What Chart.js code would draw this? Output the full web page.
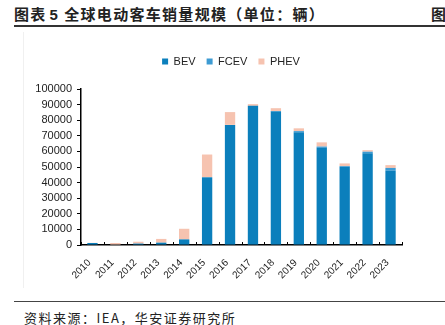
<!DOCTYPE html>
<html>
<head>
<meta charset="utf-8">
<script src="https://cdn.jsdelivr.net/npm/chart.js@4.4.0/dist/chart.umd.min.js"></script>
<style>
  body { margin: 0; background: #fff; }
  #page { position: relative; width: 445px; height: 325px; overflow: hidden; font-family: "Liberation Sans", Arial, sans-serif; }
  #title { position: absolute; left: 14px; top: 5px; font-size: 15px; line-height: 18px; font-weight: bold; color: #222; font-family: "Noto Sans CJK SC", sans-serif; white-space: nowrap; letter-spacing: 1.3px; }
  #title .num { font-family: "Liberation Sans", Arial; margin: 0 5px 0 3px; }
  #title2 { position: absolute; left: 431px; top: 5px; font-size: 15px; line-height: 18px; font-weight: bold; color: #222; font-family: "Noto Sans CJK SC", sans-serif; }
  #topline { position: absolute; left: 14px; top: 25px; width: 431px; height: 2px; background: #333; }
  #box { position: absolute; left: 23px; top: 32px; width: 1px; height: 256px; background: #f0f0f0; }
  #bottomline { position: absolute; left: 14px; top: 301px; width: 431px; height: 1px; background: #444; }
  #source { position: absolute; left: 24px; top: 309px; font-size: 13px; line-height: 18px; color: #222; font-family: "Noto Sans CJK SC", sans-serif; white-space: nowrap; letter-spacing: 1.5px; }
  #wrap { position: absolute; left: 0; top: 40px; width: 445px; height: 250px; }
</style>
</head>
<body>
<div id="page">
  <div id="title">图表<span class="num">5</span>全球电动客车销量规模（单位：辆）</div>
  <div id="title2">图</div>
  <div id="topline"></div>
  <div id="box"></div>
  <div id="wrap"><canvas id="chart"></canvas></div>
  <div id="bottomline"></div>
  <div id="source">资料来源：IEA，华安证券研究所</div>
</div>
<script>
var years = ['2010', '2011', '2012', '2013', '2014', '2015', '2016', '2017', '2018', '2019', '2020', '2021', '2022', '2023'];
var bev  = [1300, 300, 900, 1500, 3600, 43400, 77000, 89200, 85500, 72300, 62300, 50100, 58800, 47600];
var fcev = [0, 0, 0, 0, 0, 0, 0, 0, 400, 700, 800, 500, 1000, 1800];
var phev = [100, 1000, 1200, 2400, 6800, 14600, 8200, 1100, 1800, 1800, 2700, 1700, 1000, 1800];

// small tick marks on the x axis at category boundaries, drawn upward
var xTicksPlugin = {
    id: 'xTicks',
    afterDatasetsDraw: function(chart) {
        var ctx = chart.ctx;
        var x = chart.scales.x;
        var y0 = chart.chartArea.bottom;
        ctx.save();
        ctx.strokeStyle = '#000';
        ctx.lineWidth = 1;
        for (var i = 0; i <= years.length; i++) {
            var px = x.getPixelForValue(i - 0.5);
            ctx.beginPath();
            ctx.moveTo(Math.round(px) + 0.5, y0);
            ctx.lineTo(Math.round(px) + 0.5, y0 - 3);
            ctx.stroke();
        }
        ctx.restore();
    }
};

// extra room under the legend, and shift it to the right like the original
var legendPlugin = {
    id: 'legendTweak',
    beforeInit: function(chart) {
        var fit = chart.legend.fit;
        chart.legend.fit = function() {
            fit.call(this);
            this.height += 12;
        };
    },
    afterLayout: function(chart) {
        chart.legend.right += 60;
    }
};

new Chart(document.getElementById('chart'), {
    type: 'bar',
    data: {
        labels: years,
        datasets: [
            { label: 'BEV', data: bev, backgroundColor: '#0b7fbc' },
            { label: 'FCEV', data: fcev, backgroundColor: '#3d9bd3' },
            { label: 'PHEV', data: phev, backgroundColor: '#f6c3b0' }
        ]
    },
    options: {
        responsive: true,
        maintainAspectRatio: false,
        animation: false,
        layout: { padding: { left: 0, right: 43, top: 5, bottom: 0 } },
        datasets: { bar: { categoryPercentage: 1, barPercentage: 0.45 } },
        plugins: {
            legend: {
                position: 'top',
                labels: {
                    boxWidth: 6, boxHeight: 6, padding: 11,
                    font: { size: 11, family: '"Liberation Sans", Arial' },
                    color: '#222'
                }
            },
            tooltip: { enabled: false }
        },
        scales: {
            x: {
                stacked: true,
                grid: { display: false },
                border: { color: '#000', width: 1.5 },
                ticks: {
                    minRotation: 45, maxRotation: 45, padding: 4, labelOffset: -3,
                    font: { size: 10, family: '"Liberation Sans", Arial' },
                    color: '#222'
                },
                afterFit: function(scale) { scale.height = 45; }
            },
            y: {
                stacked: true,
                min: 0, max: 100000,
                grid: { drawOnChartArea: false, tickLength: 4, color: '#000' },
                border: { color: '#000', width: 1.5 },
                ticks: {
                    stepSize: 10000, padding: 5, autoSkip: false,
                    font: { size: 11, family: '"Liberation Sans", Arial' },
                    color: '#222',
                    callback: function(v) { return String(v); }
                },
                afterFit: function(scale) { scale.width = 81; }
            }
        }
    },
    plugins: [xTicksPlugin, legendPlugin]
});
</script>
</body>
</html>
